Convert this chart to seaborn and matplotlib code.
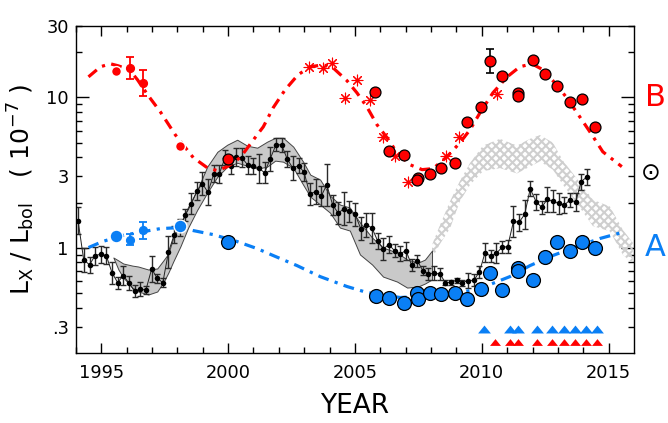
import numpy as np
import pandas as pd
import matplotlib
matplotlib.use('Agg')
import matplotlib.pyplot as plt
import seaborn as sns

# Black series: 10^-7 Lx/Lbol with log errors
black_year = [1994.09, 1994.31, 1994.54, 1994.76, 1994.98, 1995.20, 1995.43, 1995.65, 1995.87, 1996.10,
              1996.32, 1996.54, 1996.76, 1996.99, 1997.21, 1997.43, 1997.65, 1997.88, 1998.10, 1998.32,
              1998.55, 1998.77, 1998.99, 1999.21, 1999.44, 1999.66, 1999.88, 2000.11, 2000.33, 2000.55,
              2000.77, 2001.00, 2001.22, 2001.44, 2001.66, 2001.89, 2002.11, 2002.33, 2002.55, 2002.78,
              2003.00, 2003.22, 2003.45, 2003.67, 2003.89, 2004.12, 2004.34, 2004.56, 2004.78, 2005.01,
              2005.23, 2005.45, 2005.67, 2005.90, 2006.12, 2006.34, 2006.57, 2006.79, 2007.01, 2007.24,
              2007.46, 2007.68, 2007.90, 2008.13, 2008.35, 2008.57, 2008.79, 2009.02, 2009.24, 2009.46,
              2009.69, 2009.91, 2010.13, 2010.35, 2010.58, 2010.80, 2011.02, 2011.25, 2011.47, 2011.69,
              2011.91, 2012.14, 2012.36, 2012.58, 2012.80, 2013.03, 2013.25, 2013.47, 2013.70, 2013.92,
              2014.14]
black_val = [1.511, .836, .771, .889, .907, .889, .682, .588, .655, .582,
             .513, .534, .523, .725, .628, .588, .935, 1.226, 1.364, 1.656,
             1.96, 2.376, 2.673, 2.34, 3.114, 3.114, 3.98, 3.52, 4.02, 3.96,
             3.57, 3.50, 3.38, 3.16, 3.90, 4.85, 4.85, 3.90, 3.40, 3.52,
             3.18, 2.28, 2.37, 2.20, 2.63, 1.94, 1.70, 1.82, 1.75, 1.67,
             1.34, 1.42, 1.36, 1.11, .985, 1.05, .955, .912, .96, .766,
             .823, .705, .673, .678, .672, .586, .591, .609, .588, .606,
             .609, .693, .931, .88, .921, 1.01, 1.02, 1.50, 1.48, 1.67,
             2.47, 2.03, 1.86, 2.10, 2.04, 1.98, 1.92, 2.08, 2.02, 2.76,
             2.96]
black_err = [.09, .08, .055, .06, .058, .058, .075, .04, .063, .047,
             .04, .047, .025, .085, .03, .03, .105, .055, .055, .04,
             .07, .06, .077, .086, .055, .06, .05, .055, .063, .063,
             .06, .053, .096, .07, .08, .044, .046, .053, .077, .05,
             .06, .072, .085, .066, .14, .066, .072, .11, .07, .075,
             .078, .08, .1, .055, .074, .058, .044, .05, .06, .04,
             .04, .03, .04, .046, .04, .018, .018, .016, .02, .048,
             .04, .04, .066, .04, .066, .04, .042, .104, .055, .096,
             .05, .053, .042, .084, .072, .07, .053, .046, .06, .053,
             .05]

# Grey model band, log10
band_year = [1995.48, 1995.68, 1995.87, 1996.23, 1996.46, 1996.86, 1997.21, 1997.45, 1997.65, 1997.84,
             1998.12, 1998.43, 1998.79, 1999.18, 1999.58, 1999.97, 2000.36, 2000.76, 2001.15, 2001.54,
             2001.86, 2002.17, 2002.57, 2002.96, 2003.24, 2003.63, 2004.02, 2004.41, 2004.80, 2005.20,
             2005.68, 2006.11, 2006.66, 2007.06, 2007.49, 2007.76, 2008.04]
band_hi = [-.064, -.084, -.104, -.118, -.124, -.144, -.137, -.084, -.038, .068,
           .155, .274, .387, .540, .639, .686, .719, .679, .666, .706,
           .732, .732, .673, .573, .487, .454, .347, .288, .268, .168,
           .068, .002, -.031, -.078, -.098, -.078, -.018]
band_lo = [-.064, -.144, -.197, -.264, -.290, -.310, -.290, -.230, -.164, -.091,
           .009, .135, .254, .367, .473, .540, .566, .546, .527, .540,
           .580, .573, .533, .420, .341, .288, .234, .135, .115, -.044,
           -.111, -.191, -.224, -.264, -.257, -.237, -.210]

# Hatched prediction band, log10
hatch_year = [2008.04, 2008.35, 2008.75, 2009.14, 2009.54, 2010.05, 2010.72, 2011.39, 2011.90,
              2012.29, 2012.80, 2013.20, 2013.75, 2014.38, 2015.05, 2015.56, 2015.95]
hatch_hi = [.02, .15, .31, .445, .565, .68, .725, .68, .725, .75, .70, .58, .46, .32, .275, .12, .035]
hatch_lo = [-.07, .025, .13, .31, .42, .51, .53, .495, .54, .575, .52, .42, .295, .145, .11, -.045, -.105]

# Dash-dot curves, log10
red_curve_year = [1994.50, 1994.97, 1995.36, 1995.68, 1996.11, 1996.43, 1996.86, 1997.33, 1997.92, 1998.63,
                  1999.18, 1999.58, 1999.97, 2000.48, 2001.15, 2001.39, 2001.78, 2002.25, 2002.76, 2003.24,
                  2003.75, 2004.14, 2004.69, 2005.08, 2005.47, 2005.87, 2006.27, 2006.66, 2007.17, 2007.65,
                  2008.08, 2008.63, 2009.14, 2009.54, 2009.93, 2010.44, 2011.00, 2011.50, 2011.98, 2012.41,
                  2012.88, 2013.35, 2013.86, 2014.34, 2014.77, 2015.52]
red_curve = [1.137, 1.204, 1.224, 1.210, 1.184, 1.118, 1.011, .905, .752, .600,
             .533, .513, .540, .600, .752, .805, .932, 1.051, 1.151, 1.204,
             1.217, 1.197, 1.111, 1.031, .938, .819, .732, .633, .553, .520,
             .527, .606, .699, .786, .898, 1.031, 1.137, 1.204, 1.224, 1.184,
             1.097, .998, .872, .752, .639, .540]
blue_curve_year = [1994.50, 1995.05, 1995.83, 1996.66, 1997.33, 1998.12, 1998.63, 1999.42, 2000.36, 2001.15,
                   2001.78, 2002.72, 2003.63, 2004.69, 2005.48, 2006.78, 2008.35, 2009.54, 2010.32, 2011.11,
                   2011.90, 2012.80, 2013.75, 2014.65, 2015.52]
blue_curve = [.002, .042, .082, .108, .128, .135, .115, .088, .042, -.005,
              -.051, -.118, -.191, -.257, -.297, -.330, -.317, -.284, -.244, -.191,
              -.118, -.051, .009, .062, .102]

# Early points without outline
red_plain_year = [1995.59, 1998.11]
red_plain = [1.177, .675]
red_err_year = [1996.12, 1996.65]
red_err_val = [1.193, 1.096]
red_err_size = [.073, .086]
blue_plain_year = [1995.59, 1998.11]
blue_plain = [.077, .148]
blue_err_year = [1996.12, 1996.65]
blue_err_val = [.055, .117]
blue_err_size = [.038, .055]

# Outlined points
red_year = [2000.0, 2005.80, 2006.36, 2006.95, 2007.48, 2007.44, 2007.96, 2008.41, 2008.96, 2009.41,
            2009.96, 2010.33, 2010.81, 2011.43, 2011.44, 2012.0, 2012.48, 2012.95, 2013.49, 2013.97, 2014.47]
red_val = [.593, 1.033, .641, .620, .462, .451, .491, .532, .564, .834,
           .938, 1.242, 1.146, 1.029, 1.011, 1.246, 1.159, 1.073, .969, .987, .803]
blue_year = [2000.0, 2005.82, 2006.36, 2006.95, 2007.44, 2007.48, 2007.96, 2008.41, 2008.96, 2009.43,
             2009.96, 2010.33, 2010.81, 2011.43, 2011.44, 2012.0, 2012.48, 2012.96, 2013.49, 2013.97, 2014.47]
blue_val = [.040, -.319, -.335, -.368, -.303, -.343, -.303, -.306, -.299, -.337,
            -.272, -.164, -.282, -.137, -.151, -.212, -.062, .040, -.018, .040, -.003]

# Asterisks
star_year = [2003.21, 2003.75, 2004.10, 2004.60, 2005.10, 2005.60, 2006.10, 2006.60, 2007.09, 2008.60, 2009.10, 2010.61]
star_val = [1.205, 1.193, 1.232, .996, 1.113, .980, .739, .608, .436, .613, .739, 1.023]

# Observation epochs along the bottom
tri_blue_year = [2010.07, 2011.10, 2011.44, 2012.16, 2012.78, 2013.23, 2013.67, 2014.11, 2014.56]
tri_red_year = [2010.51, 2011.10, 2011.44, 2012.16, 2012.78, 2013.23, 2013.67, 2014.11, 2014.56]
tri_blue_val = [.291] * 9
tri_red_val = [.236] * 9

RED = '#ff0000'
BLUE = '#0a7ff5'
TRI = [(-1, -.62), (1, -.62), (0, .62)]
DASH = (0, (3.4, 2.0, 1, 2.0))


def un(a):
    return 10 ** np.asarray(a)


sns.set_style('ticks')
plt.rcParams['font.family'] = ['DejaVu Sans']
plt.rcParams['text.color'] = 'black'
plt.rcParams['axes.labelcolor'] = 'black'
plt.rcParams['xtick.labelcolor'] = 'black'
plt.rcParams['ytick.labelcolor'] = 'black'
plt.rcParams['hatch.linewidth'] = 1.5
plt.rcParams['hatch.color'] = '#cfcfcf'
plt.rcParams['lines.dash_capstyle'] = 'butt'

fig = plt.figure(figsize=(6.68, 4.23), dpi=100)
ax = fig.add_axes([75.8 / 668, 1 - 353 / 423, (634 - 75.8) / 668, (353 - 25.7) / 423])
ax.set_yscale('log')

# bands
ax.fill_between(hatch_year, un(hatch_lo), un(hatch_hi), facecolor='none', edgecolor='#cfcfcf',
                hatch='xxxx', linewidth=0, zorder=1)
ax.fill_between(band_year, un(band_lo), un(band_hi), facecolor='#c9c9c9', edgecolor='#444444',
                linewidth=0.7, zorder=1.5)

# black series
ax.errorbar(black_year, black_val,
            yerr=[np.array(black_val) * (1 - 10 ** -np.array(black_err)),
                  np.array(black_val) * (10 ** np.array(black_err) - 1)],
            fmt='none', ecolor='#2a2a2a', elinewidth=1, capsize=2.4, capthick=1, zorder=2)
df_black = pd.DataFrame({'year': black_year, 'val': black_val})
sns.lineplot(data=df_black, x='year', y='val', color='#222222', lw=0.7, errorbar=None, ax=ax, zorder=2.1)
sns.scatterplot(data=df_black, x='year', y='val', color='black', s=16, linewidth=0, ax=ax, zorder=2.2)

# model curves
sns.lineplot(x=red_curve_year, y=un(red_curve), color=RED, lw=2.3, linestyle=DASH, errorbar=None, ax=ax, zorder=3)
sns.lineplot(x=blue_curve_year, y=un(blue_curve), color=BLUE, lw=2.3, linestyle=DASH, errorbar=None, ax=ax, zorder=3)

# early points with error bars
for yr, v, e, c in [(red_err_year, red_err_val, red_err_size, RED), (blue_err_year, blue_err_val, blue_err_size, BLUE)]:
    ax.errorbar(yr, un(v), yerr=[un(v) * (1 - 10 ** -np.array(e)), un(v) * (10 ** np.array(e) - 1)],
                fmt='o', color=c, ms=5.6, elinewidth=1.3, capsize=3.2, capthick=1.3, zorder=3.5)
sns.scatterplot(x=red_plain_year, y=un(red_plain), color=RED, s=50, edgecolor='white', linewidth=1, ax=ax, zorder=4)
sns.scatterplot(x=blue_plain_year, y=un(blue_plain), color=BLUE, s=85, edgecolor='white', linewidth=1, ax=ax, zorder=4)

ax.errorbar([2010.33], un([1.242]), yerr=[[un(1.242) * (1 - 10 ** -.08)], [un(1.242) * (10 ** .08 - 1)]],
            fmt='none', ecolor='black', elinewidth=1.2, capsize=3, capthick=1.2, zorder=3.6)

# asterisks
sns.scatterplot(x=star_year, y=un(star_val), color=RED, marker=(8, 2, 0), s=60, linewidth=0.8, edgecolor=RED, ax=ax, zorder=4)

# outlined points
sns.scatterplot(x=red_year, y=un(red_val), color=RED, s=62, edgecolor='black', linewidth=0.9, ax=ax, zorder=5)
sns.scatterplot(x=blue_year, y=un(blue_val), color=BLUE, s=100, edgecolor='black', linewidth=0.9, ax=ax, zorder=5)

# bottom triangles
sns.scatterplot(x=tri_blue_year, y=tri_blue_val, color=BLUE, marker=TRI, s=85, linewidth=0, ax=ax, zorder=4)
sns.scatterplot(x=tri_red_year, y=tri_red_val, color=RED, marker=TRI, s=62, linewidth=0, ax=ax, zorder=4)

# axes
ax.set_xlim(1994, 2016)
ax.set_ylim(0.2, 30)
ax.set_xticks([1995, 2000, 2005, 2010, 2015])
ax.set_xticks([y for y in range(1994, 2016) if y % 5 != 0], minor=True)
ax.set_yticks([1, 10])
ax.set_yticklabels(['1', '10'])
minor_y = [.3, .4, .5, .6, .7, .8, .9, 2, 3, 4, 5, 6, 7, 8, 9, 20, 30]
ax.set_yticks(minor_y, minor=True)
ax.set_yticklabels(['.3' if t == .3 else '3' if t == 3 else '30' if t == 30 else '' for t in minor_y], minor=True)
ax.tick_params(which='major', axis='x', direction='in', length=7.5, width=1, top=True, labelsize=12.8, pad=8, color='black')
ax.tick_params(which='minor', axis='x', direction='in', length=4.5, width=1, top=True, color='black')
ax.tick_params(which='major', axis='y', direction='in', length=9.5, width=1, right=True, labelsize=12.8, pad=5, color='black')
ax.tick_params(which='minor', axis='y', direction='in', length=4.5, width=1, right=True, labelsize=12.8, pad=5, color='black')
for s in ax.spines.values():
    s.set_visible(True)
    s.set_linewidth(1)
    s.set_color('black')

ax.set_xlabel('YEAR', fontsize=19, labelpad=8)
ax.set_ylabel(r'$\mathregular{L_X\ /\ L_{bol}\ \ \ (\ 10^{-7}\ )}$', fontsize=18, labelpad=7)

fig.text(655 / 668, 1 - 98 / 423, 'B', color=RED, fontsize=22, ha='center', va='center')
fig.text(651 / 668, 1 - 173 / 423, '\u2299', color='black', fontsize=17, ha='center', va='center')
fig.text(655 / 668, 1 - 248 / 423, 'A', color=BLUE, fontsize=22, ha='center', va='center')

fig.savefig('out.png', dpi=100)
